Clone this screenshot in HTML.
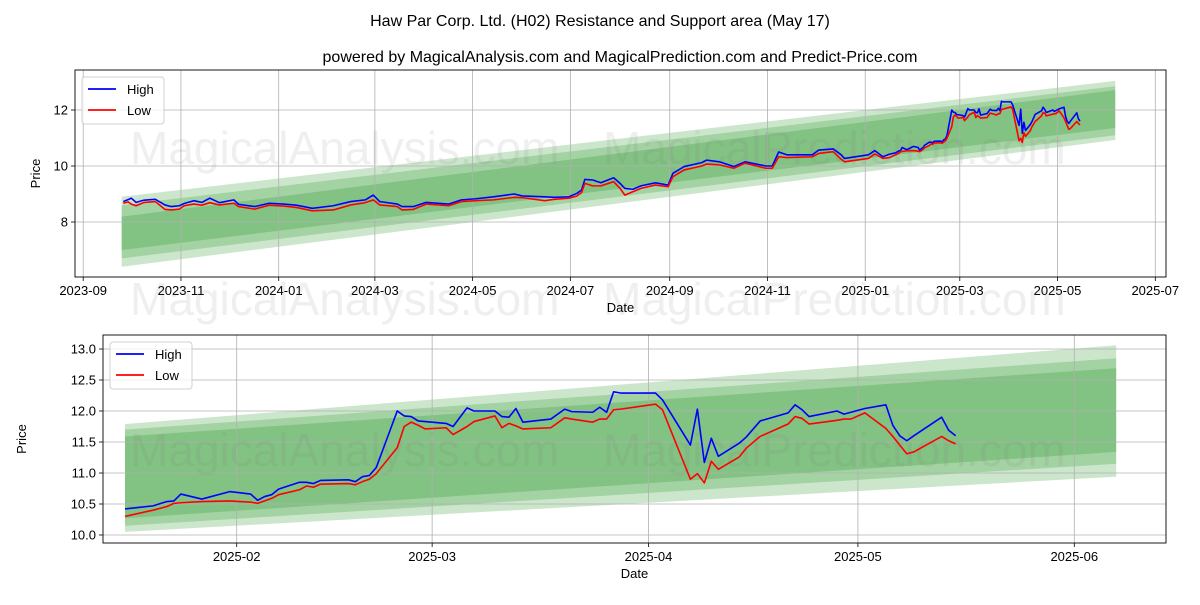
<!DOCTYPE html>
<html><head><meta charset="utf-8"><style>
body{margin:0;background:#fff;width:1200px;height:600px;overflow:hidden}
svg{font-family:"Liberation Sans","DejaVu Sans",sans-serif}
</style></head><body>
<svg id="c" width="1200" height="600" viewBox="0 0 1200 600">
<text x="600" y="26" text-anchor="middle" font-size="16">Haw Par Corp. Ltd. (H02) Resistance and Support area (May 17)</text>
<text x="620" y="62" text-anchor="middle" font-size="16">powered by MagicalAnalysis.com and MagicalPrediction.com and Predict-Price.com</text>
</svg>
<script>
// ---- data: top chart (history before bottom window) ----
const topDates=["2023-09-26","2023-09-29","2023-10-01","2023-10-04","2023-10-09","2023-10-16","2023-10-22","2023-10-26","2023-10-31","2023-11-03","2023-11-09","2023-11-14","2023-11-19","2023-11-25","2023-12-04","2023-12-07","2023-12-17","2023-12-26","2024-01-04","2024-01-12","2024-01-22","2024-02-04","2024-02-15","2024-02-24","2024-02-29","2024-03-04","2024-03-15","2024-03-18","2024-03-25","2024-04-02","2024-04-16","2024-04-24","2024-05-03","2024-05-14","2024-05-27","2024-06-01","2024-06-15","2024-06-21","2024-06-30","2024-07-05","2024-07-08","2024-07-10","2024-07-15","2024-07-20","2024-07-28","2024-08-01","2024-08-04","2024-08-09","2024-08-14","2024-08-23","2024-08-31","2024-09-03","2024-09-10","2024-09-21","2024-09-24","2024-10-02","2024-10-11","2024-10-18","2024-10-31","2024-11-04","2024-11-08","2024-11-13","2024-11-29","2024-12-03","2024-12-12","2024-12-17","2024-12-19","2025-01-03","2025-01-07","2025-01-12"];
const topHigh=[8.73,8.80,8.85,8.70,8.78,8.81,8.61,8.55,8.58,8.66,8.76,8.70,8.85,8.69,8.79,8.63,8.55,8.67,8.64,8.60,8.49,8.58,8.73,8.79,8.96,8.73,8.64,8.55,8.55,8.70,8.64,8.79,8.83,8.90,9.00,8.93,8.90,8.88,8.90,9.02,9.14,9.52,9.50,9.40,9.58,9.38,9.20,9.17,9.29,9.40,9.32,9.74,9.98,10.12,10.21,10.15,9.98,10.15,10.00,10.00,10.50,10.40,10.40,10.57,10.61,10.40,10.27,10.40,10.55,10.33];
const topLow=[8.67,8.72,8.64,8.58,8.70,8.73,8.45,8.43,8.46,8.58,8.64,8.60,8.69,8.61,8.67,8.55,8.46,8.60,8.57,8.52,8.40,8.43,8.61,8.69,8.79,8.61,8.55,8.43,8.45,8.64,8.58,8.73,8.76,8.79,8.88,8.87,8.76,8.81,8.85,8.93,9.05,9.38,9.29,9.29,9.44,9.20,8.96,9.08,9.20,9.32,9.26,9.62,9.86,10.00,10.07,10.04,9.92,10.10,9.92,9.92,10.33,10.30,10.33,10.45,10.51,10.24,10.15,10.27,10.43,10.27];
// ---- data: recent window (bottom chart, also appended to top) ----
const recDates=["2025-01-16","2025-01-20","2025-01-22","2025-01-23","2025-01-24","2025-01-27","2025-01-31","2025-02-03","2025-02-04","2025-02-05","2025-02-06","2025-02-07","2025-02-10","2025-02-11","2025-02-12","2025-02-13","2025-02-17","2025-02-18","2025-02-19","2025-02-20","2025-02-21","2025-02-24","2025-02-25","2025-02-26","2025-02-27","2025-02-28","2025-03-03","2025-03-04","2025-03-06","2025-03-07","2025-03-10","2025-03-11","2025-03-12","2025-03-13","2025-03-14","2025-03-18","2025-03-20","2025-03-21","2025-03-24","2025-03-25","2025-03-26","2025-03-27","2025-03-28","2025-04-02","2025-04-03","2025-04-07","2025-04-08","2025-04-09","2025-04-10","2025-04-11","2025-04-14","2025-04-15","2025-04-17","2025-04-21","2025-04-22","2025-04-23","2025-04-24","2025-04-28","2025-04-29","2025-04-30","2025-05-02","2025-05-05","2025-05-06","2025-05-07","2025-05-08","2025-05-09","2025-05-13","2025-05-14","2025-05-15"];
const recHigh=[10.42,10.47,10.54,10.55,10.66,10.58,10.70,10.66,10.56,10.62,10.65,10.74,10.85,10.85,10.83,10.88,10.89,10.86,10.94,10.96,11.09,12.00,11.92,11.91,11.84,11.83,11.80,11.75,12.05,12.00,12.00,11.91,11.90,12.04,11.82,11.87,12.03,11.99,11.98,12.06,11.98,12.31,12.29,12.29,12.18,11.45,12.03,11.17,11.56,11.27,11.48,11.58,11.84,11.97,12.10,12.02,11.91,12.00,11.95,11.98,12.04,12.10,11.77,11.60,11.52,11.60,11.90,11.69,11.60];
const recLow=[10.30,10.40,10.46,10.51,10.52,10.54,10.55,10.53,10.51,10.55,10.59,10.65,10.73,10.79,10.77,10.82,10.83,10.81,10.86,10.90,10.99,11.41,11.75,11.82,11.77,11.71,11.73,11.62,11.75,11.83,11.92,11.73,11.80,11.76,11.71,11.73,11.89,11.87,11.82,11.87,11.87,12.02,12.03,12.11,12.02,10.90,10.99,10.84,11.19,11.06,11.26,11.40,11.59,11.79,11.91,11.88,11.79,11.85,11.87,11.87,11.97,11.72,11.59,11.45,11.31,11.34,11.59,11.52,11.47];
// ---- bands: [start upper, start lower, end upper, end lower] per layer ----
const topBandStartUpper=[8.90,8.60,8.19];
const topBandStartLower=[6.40,6.70,7.00];
const topBandEndUpper=[13.04,12.85,12.71];
const topBandEndLower=[10.93,11.10,11.36];
const topBandDates=["2023-09-25","2025-06-06"];
const botBandStartUpper=[11.79,11.70,11.59];
const botBandStartLower=[10.05,10.15,10.27];
const botBandEndUpper=[13.06,12.85,12.69];
const botBandEndLower=[10.94,11.15,11.34];
const botBandDates=["2025-01-16","2025-06-07"];
const topYTicks=[8,10,12];
const botYTicks=[10.0,10.5,11.0,11.5,12.0,12.5,13.0];
const topXTicks=["2023-09","2023-11","2024-01","2024-03","2024-05","2024-07","2024-09","2024-11","2025-01","2025-03","2025-05","2025-07"];
const botXTicks=["2025-02","2025-03","2025-04","2025-05","2025-06"];

const NS="http://www.w3.org/2000/svg";
const svg=document.getElementById('c');
const T=s=>Date.UTC(+s.slice(0,4),+s.slice(5,7)-1,s.length>7?+s.slice(8,10):1);
function mk(tag,attrs,parent){const e=document.createElementNS(NS,tag);for(const k in attrs)e.setAttribute(k,attrs[k]);(parent||svg).appendChild(e);return e;}

function drawChart(cfg){
  const g=mk('g',{});
  
  
  const t0=T(cfg.xa[0]),t1=T(cfg.xa[2]);
  const X=d=>cfg.xa[1]+(T(d)-t0)/(t1-t0)*(cfg.xa[3]-cfg.xa[1]);
  const Y=v=>cfg.ya[1]-(v-cfg.ya[0])*cfg.ya[2];
  const L=cfg.L,R=cfg.R,Tp=cfg.Tp,B=cfg.B;
  const cp='clip-'+cfg.name;
  const defs=mk('defs',{},g);const cl=mk('clipPath',{id:cp},defs);mk('rect',{x:L,y:Tp,width:R-L,height:B-Tp},cl);
  for(let i=0;i<cfg.bsu.length;i++){
    const xa=X(cfg.bd[0]),xb=X(cfg.bd[1]);
    const p=mk('polygon',{points:`${xa},${Y(cfg.bsu[i])} ${xb},${Y(cfg.beu[i])} ${xb},${Y(cfg.bel[i])} ${xa},${Y(cfg.bsl[i])}`,fill:'#008000','fill-opacity':0.2,'clip-path':`url(#${cp})`},g);
    
    
  }
  cfg.yt.forEach(v=>{
    const y=Y(v);
    mk('line',{x1:L,x2:R,y1:y,y2:y,stroke:'#b0b0b0','stroke-width':0.8},g);
    mk('line',{x1:L-4,x2:L,y1:y,y2:y,stroke:'#000','stroke-width':0.8},g);
    const tx=mk('text',{x:L-7,y:y+4.5,'text-anchor':'end','font-size':13},g);tx.textContent=cfg.yf(v);
    
    
  });
  cfg.xt.forEach(d=>{
    const x=X(d);
    mk('line',{x1:x,x2:x,y1:Tp,y2:B,stroke:'#b0b0b0','stroke-width':0.8},g);
    mk('line',{x1:x,x2:x,y1:B,y2:B+4,stroke:'#000','stroke-width':0.8},g);
    const tx=mk('text',{x:x,y:B+18,'text-anchor':'middle','font-size':13},g);tx.textContent=d;
    
    
  });
  cfg.wm.forEach(w=>{const t=mk('text',{x:w[1],y:w[2],'font-size':46,fill:'#808080','fill-opacity':0.13},g);t.textContent=w[0];
    
    });
  const line=(ds,vs,col,nm)=>{const p=mk('polyline',{points:ds.map((d,i)=>X(d)+','+Y(vs[i])).join(' '),fill:'none',stroke:col,'stroke-width':1.6,'stroke-linejoin':'round','clip-path':`url(#${cp})`},g);
    
    };
  line(cfg.ds,cfg.hi,'#0000ff','high-line');
  line(cfg.ds,cfg.lo,'#ff0000','low-line');
  mk('rect',{x:L,y:Tp,width:R-L,height:B-Tp,fill:'none',stroke:'#000','stroke-width':0.9},g);
  const xl=mk('text',{x:(L+R)/2,y:B+35,'text-anchor':'middle','font-size':13},g);xl.textContent='Date';
  
  
  const yl=mk('text',{x:cfg.ylx,y:(Tp+B)/2,'text-anchor':'middle','font-size':13,transform:`rotate(-90 ${cfg.ylx} ${(Tp+B)/2})`},g);yl.textContent='Price';
  
  
  const lg=mk('g',{},g);
  
  
  const lx=L+7,ly=Tp+7;
  mk('rect',{x:lx,y:ly,width:82,height:47,rx:3,fill:'#fff','fill-opacity':0.8,stroke:'#d0d0d0'},lg);
  [['High','#0000ff'],['Low','#ff0000']].forEach((e,i)=>{
    const yy=ly+12+i*21;
    mk('line',{x1:lx+6,x2:lx+34,y1:yy,y2:yy,stroke:e[1],'stroke-width':1.8},lg);
    const t=mk('text',{x:lx+45,y:yy+5,'font-size':13},lg);t.textContent=e[0];
    
    
  });
}
drawChart({name:'top-chart',L:75,R:1166,Tp:70,B:277,xa:['2023-09-01',83.2,'2025-07-01',1155.3],ya:[8,222,28],
  yt:topYTicks,yf:v=>String(v),xt:topXTicks,ylx:40,
  ds:topDates.concat(recDates),hi:topHigh.concat(recHigh),lo:topLow.concat(recLow),
  bsu:topBandStartUpper,bsl:topBandStartLower,beu:topBandEndUpper,bel:topBandEndLower,bd:topBandDates,
  wm:[['MagicalAnalysis.com',130,164],['MagicalPrediction.com',603,164],['MagicalAnalysis.com',130,315],['MagicalPrediction.com',603,315]]});
drawChart({name:'bottom-chart',L:103,R:1166,Tp:335,B:543,xa:['2025-02-01',236.7,'2025-06-01',1074.3],ya:[10,535,62],
  yt:botYTicks,yf:v=>v.toFixed(1),xt:botXTicks,ylx:26,
  ds:recDates,hi:recHigh,lo:recLow,
  bsu:botBandStartUpper,bsl:botBandStartLower,beu:botBandEndUpper,bel:botBandEndLower,bd:botBandDates,
  wm:[['MagicalAnalysis.com',130,466],['MagicalPrediction.com',603,466]]});
</script>
</body></html>
